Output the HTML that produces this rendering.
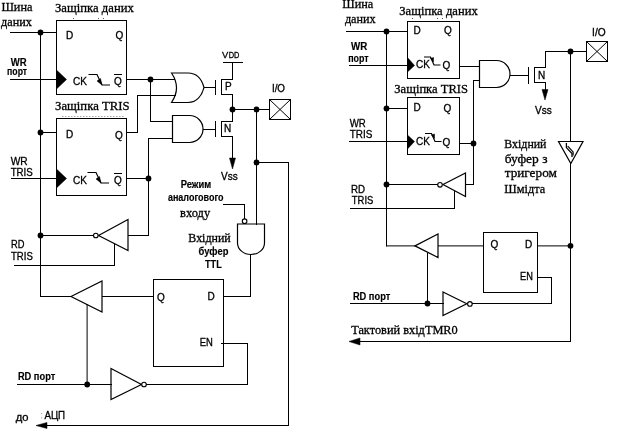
<!DOCTYPE html>
<html><head><meta charset="utf-8"><style>
html,body{margin:0;padding:0;background:#fff;}
svg{display:block;will-change:transform;}
.sr{font-family:"Liberation Serif",serif;font-size:13px;}
.sn{font-family:"Liberation Sans",sans-serif;font-size:10px;}
.sb{font-family:"Liberation Sans",sans-serif;font-size:10px;font-weight:bold;}
.sr2{font-family:"Liberation Sans",sans-serif;font-size:10px;}
.ss{font-family:"Liberation Sans",sans-serif;font-size:8.6px;}
.sv{font-family:"Liberation Sans",sans-serif;font-size:9.4px;}
.f{fill:#000;stroke:none;}
text{fill:#000;stroke:#000;stroke-width:0.3px;}
.sb{stroke-width:0.15px;}
</style></head><body>
<svg width="626" height="434" viewBox="0 0 626 434">
<rect width="626" height="434" fill="#fff"/>
<g stroke="#000" fill="none">
<path d="M10 32.5H57" stroke-width="1"/>
<circle cx="40.5" cy="32.5" r="2.9" class="f"/>
<path d="M40.5 32V297" stroke-width="1"/>
<rect x="56.5" y="20.5" width="70" height="74" fill="none"/>
<path d="M10 79.5H57" stroke-width="1"/>
<polygon points="56.5,70 66.5,79.5 56.5,89" fill="#000" stroke-width="0.5"/>
<rect x="56.5" y="118.5" width="70" height="77" fill="none"/>
<path d="M40 132.5H57" stroke-width="1"/>
<circle cx="40.5" cy="132.5" r="2.9" class="f"/>
<path d="M11 178.5H57" stroke-width="1"/>
<polygon points="56.5,169 66.5,178.5 56.5,188" fill="#000" stroke-width="0.5"/>
<path d="M126 79.5H175" stroke-width="1"/>
<circle cx="150.5" cy="79.5" r="2.9" class="f"/>
<path d="M150.5 79V122" stroke-width="1"/>
<path d="M150 121.5H173" stroke-width="1"/>
<path d="M126 132.5H138" stroke-width="1"/>
<path d="M137.5 95V133" stroke-width="1"/>
<path d="M137 95.5H176" stroke-width="1"/>
<path d="M126 178.5H149" stroke-width="1"/>
<circle cx="148.5" cy="178.5" r="2.9" class="f"/>
<path d="M148.5 138V236" stroke-width="1"/>
<path d="M148 138.5H173" stroke-width="1"/>
<path d="M171.5 73H188C197 73 202 80 204 87.5C202 95 197 102.5 188 102.5H171.5Q181.5 87.75 171.5 73Z" fill="none" stroke-width="1.2"/>
<path d="M172.5 115.5H189.5A13.5 13.5 0 0 1 189.5 142.5H172.5Z" fill="none" stroke-width="1.2"/>
<path d="M204 87.5H216" stroke-width="1"/>
<path d="M215.5 80V95" stroke-width="1"/>
<path d="M203 129.5H216" stroke-width="1"/>
<path d="M215.5 121V137" stroke-width="1"/>
<path d="M221.5 79V95" stroke-width="1"/>
<path d="M221 79.5H233" stroke-width="1"/>
<path d="M221 94.5H233" stroke-width="1"/>
<path d="M232.5 62V80" stroke-width="1"/>
<path d="M223 62.5H243" stroke-width="1"/>
<path d="M232.5 94V122" stroke-width="1"/>
<circle cx="232.5" cy="109.5" r="2.9" class="f"/>
<path d="M221.5 121V137" stroke-width="1"/>
<path d="M221 121.5H233" stroke-width="1"/>
<path d="M221 136.5H233" stroke-width="1"/>
<path d="M232.5 136V161" stroke-width="1"/>
<polygon points="229.5,158 235.5,158 232.5,169" fill="#000" stroke-width="0.5"/>
<path d="M232 109.5H270" stroke-width="1"/>
<circle cx="256.5" cy="109.5" r="2.9" class="f"/>
<rect x="269.5" y="99.5" width="21" height="20" fill="none"/>
<path d="M269.5 99.5L290.5 119.5M290.5 99.5L269.5 119.5" fill="none" stroke-width="1"/>
<path d="M256.5 109V225" stroke-width="1"/>
<circle cx="256.5" cy="162.5" r="2.9" class="f"/>
<path d="M256 162.5H289" stroke-width="1"/>
<path d="M288.5 162V426" stroke-width="1"/>
<path d="M45 425.5H289" stroke-width="1"/>
<polygon points="36,425.5 47,422.5 47,428.5" fill="#000" stroke-width="0.5"/>
<path d="M223 204.5H245" stroke-width="1"/>
<path d="M244.5 204V219" stroke-width="1"/>
<circle cx="244.6" cy="221.2" r="2.3" fill="#fff" stroke-width="1.1"/>
<path d="M237.5 224H264.5V243A13.5 11.5 0 0 1 237.5 243Z" fill="none" stroke-width="1.2"/>
<path d="M250.5 254V297" stroke-width="1"/>
<path d="M223 296.5H251" stroke-width="1"/>
<path d="M40 235.5H94" stroke-width="1"/>
<circle cx="40.5" cy="235.5" r="2.9" class="f"/>
<polygon points="98.5,235.5 128,219.5 128,250.5" fill="none" stroke-width="1.2"/>
<circle cx="95.8" cy="235.5" r="2.3" fill="#fff" stroke-width="1.1"/>
<path d="M128 235.5H149" stroke-width="1"/>
<path d="M114.5 243V266" stroke-width="1"/>
<path d="M14 265.5H115" stroke-width="1"/>
<path d="M40 296.5H72" stroke-width="1"/>
<polygon points="71,296.5 102,281 102,312" fill="none" stroke-width="1.2"/>
<path d="M102 296.5H154" stroke-width="1"/>
<path d="M87.1 304V385" stroke-width="1"/>
<circle cx="87.2" cy="384.5" r="2.9" class="f"/>
<rect x="153.5" y="279.5" width="70" height="87" fill="none"/>
<path d="M221 343.5H248" stroke-width="1"/>
<path d="M247.5 343V385" stroke-width="1"/>
<path d="M17 384.5H112" stroke-width="1"/>
<polygon points="111,368.5 141.5,384.5 111,399.5" fill="none" stroke-width="1.2"/>
<circle cx="144" cy="384.5" r="2.3" fill="#fff" stroke-width="1.1"/>
<path d="M146 384.5H248" stroke-width="1"/>
<path d="M346 31.5H408" stroke-width="1"/>
<circle cx="386.5" cy="31.5" r="2.9" class="f"/>
<path d="M386.5 31V246.4" stroke-width="1"/>
<rect x="407.5" y="21.5" width="52" height="57" fill="none"/>
<path d="M349 65.5H408" stroke-width="1"/>
<polygon points="407.5,57.5 414.5,65.5 407.5,72" fill="#000" stroke-width="0.5"/>
<path d="M459 66.5H480" stroke-width="1"/>
<path d="M479.5 60.5H496.5A13.5 13.5 0 0 1 496.5 87.5H479.5Z" fill="none" stroke-width="1.2"/>
<path d="M510 75.5H529" stroke-width="1"/>
<path d="M528.5 67V84" stroke-width="1"/>
<path d="M534.5 67V83" stroke-width="1"/>
<path d="M534 67.5H546" stroke-width="1"/>
<path d="M545.5 51V68" stroke-width="1"/>
<path d="M545 51.5H587" stroke-width="1"/>
<circle cx="570.5" cy="51.5" r="2.9" class="f"/>
<rect x="586.5" y="41.5" width="21" height="20" fill="none"/>
<path d="M586.5 41.5L607.5 61.5M607.5 41.5L586.5 61.5" fill="none" stroke-width="1"/>
<path d="M534 82.5H546" stroke-width="1"/>
<path d="M545.5 82V91" stroke-width="1"/>
<polygon points="542,89.5 548,89.5 545,100" fill="#000" stroke-width="0.5"/>
<path d="M570.5 51V142" stroke-width="1"/>
<path d="M570.5 163V342" stroke-width="1"/>
<polygon points="558.5,141.5 583,141.5 570.8,163.5" fill="none" stroke-width="1.2"/>
<path d="M566.4 143V147.6L572 153.6V157" fill="none" stroke-width="1.3"/>
<path d="M567.7 146.1L573.1 151.9V155.5" fill="none" stroke-width="1.2"/>
<circle cx="570.5" cy="245.8" r="2.9" class="f"/>
<path d="M537 245.9H571" stroke-width="1"/>
<path d="M473 80.5H480" stroke-width="1"/>
<path d="M473.5 80V185" stroke-width="1"/>
<circle cx="473.5" cy="143.5" r="2.9" class="f"/>
<path d="M459 143.5H474" stroke-width="1"/>
<rect x="407.5" y="97.5" width="52" height="57" fill="none"/>
<path d="M386 108.5H408" stroke-width="1"/>
<circle cx="386.5" cy="108.5" r="2.9" class="f"/>
<path d="M349 141.5H408" stroke-width="1"/>
<polygon points="407.5,135 414.5,141.5 407.5,149" fill="#000" stroke-width="0.5"/>
<path d="M465 184.5H474" stroke-width="1"/>
<polygon points="443,184.5 465.5,173 465.5,196.5" fill="none" stroke-width="1.2"/>
<circle cx="440" cy="184.8" r="2.3" fill="#fff" stroke-width="1.1"/>
<path d="M386 184.5H438" stroke-width="1"/>
<circle cx="386.5" cy="184.5" r="2.9" class="f"/>
<path d="M454.5 191V209" stroke-width="1"/>
<path d="M350 208.5H455" stroke-width="1"/>
<path d="M386 245.9H416" stroke-width="1"/>
<polygon points="415,245.9 438,234 438,257.5" fill="none" stroke-width="1.2"/>
<path d="M438 245.9H484" stroke-width="1"/>
<path d="M427.5 253V304" stroke-width="1"/>
<circle cx="427.5" cy="303.5" r="2.9" class="f"/>
<rect x="483.5" y="232.5" width="54" height="60" fill="none"/>
<path d="M537 277.5H552" stroke-width="1"/>
<path d="M551.5 277V304" stroke-width="1"/>
<path d="M350 303.5H444" stroke-width="1"/>
<polygon points="443,292 466.8,303.8 443,315.5" fill="none" stroke-width="1.2"/>
<circle cx="469.9" cy="303.9" r="2.3" fill="#fff" stroke-width="1.1"/>
<path d="M472 303.5H552" stroke-width="1"/>
<path d="M358 341.5H571" stroke-width="1"/>
<polygon points="349,341.5 360,338 360,345" fill="#000" stroke-width="0.5"/>
<rect x="73" y="18" width="1" height="1" fill="#555" stroke="none"/>
<rect x="98" y="18" width="1" height="1" fill="#555" stroke="none"/>
<rect x="103" y="18" width="1" height="1" fill="#555" stroke="none"/>
<rect x="412" y="18" width="1" height="1" fill="#555" stroke="none"/>
<rect x="437" y="18" width="1" height="1" fill="#555" stroke="none"/>
<rect x="442" y="18" width="1" height="1" fill="#555" stroke="none"/>
<path d="M62 116.5H125" stroke="#aaa" stroke-dasharray="1.5 1.5"/>
<path d="M88.5 74.5H97.0L102.0 85H110.0" fill="none" stroke-width="1.2"/>
<polygon points="97.0,81 100.5,78.5 102.0,85" fill="#000" stroke-width="0.5"/>
<path d="M87.5 172.5H96.0L101.0 183H109.0" fill="none" stroke-width="1.2"/>
<polygon points="96.0,179 99.5,176.5 101.0,183" fill="#000" stroke-width="0.5"/>
<path d="M424 57.0H430.5L434 65.0H440.5" fill="none" stroke-width="1.2"/>
<polygon points="430.5,58.5 433.5,57.5 433.5,62.0" fill="#000" stroke-width="0.5"/>
<path d="M425 133.5H431.5L435 141.5H441.5" fill="none" stroke-width="1.2"/>
<polygon points="431.5,135 434.5,134 434.5,138.5" fill="#000" stroke-width="0.5"/>
<text id="t0" x="1.4" y="11" class="sr" textLength="31.12" lengthAdjust="spacingAndGlyphs">Шина</text>
<text id="t1" x="1.0" y="26" class="sr" textLength="30.82" lengthAdjust="spacingAndGlyphs">даних</text>
<text id="t2" x="55.0" y="12" class="sr" textLength="78.82" lengthAdjust="spacingAndGlyphs">Защіпка даних</text>
<text id="t3" x="55.0" y="110" class="sr" textLength="74.57" lengthAdjust="spacingAndGlyphs">Защіпка TRIS</text>
<text id="t4" x="342.2" y="8" class="sr" textLength="31.12" lengthAdjust="spacingAndGlyphs">Шина</text>
<text id="t5" x="344.9" y="23" class="sr" textLength="30.82" lengthAdjust="spacingAndGlyphs">даних</text>
<text id="t6" x="399.3" y="15" class="sr" textLength="78.42" lengthAdjust="spacingAndGlyphs">Защіпка даних</text>
<text id="t7" x="394.3" y="93" class="sr" textLength="73.77" lengthAdjust="spacingAndGlyphs">Защіпка TRIS</text>
<text id="t8" x="180.0" y="216.5" class="sr" textLength="30.12" lengthAdjust="spacingAndGlyphs">входу</text>
<text id="t9" x="188.3" y="242" class="sr" textLength="42.50" lengthAdjust="spacingAndGlyphs">Вхідний</text>
<text id="t10" x="504.3" y="148" class="sr" textLength="42.20" lengthAdjust="spacingAndGlyphs">Вхідний</text>
<text id="t11" x="504.7" y="162.5" class="sr" textLength="42.79" lengthAdjust="spacingAndGlyphs">буфер з</text>
<text id="t12" x="504.7" y="177" class="sr" textLength="52.22" lengthAdjust="spacingAndGlyphs">тригером</text>
<text id="t13" x="504.3" y="193" class="sr" textLength="40.88" lengthAdjust="spacingAndGlyphs">Шмідта</text>
<text id="t14" x="351.17" y="334" class="sr" textLength="106.62" lengthAdjust="spacingAndGlyphs">Тактовий вхідTMR0</text>
<text id="t15" x="10.7" y="65.5" class="sb" textLength="15.89" lengthAdjust="spacingAndGlyphs">WR</text>
<text id="t16" x="7.1" y="75" class="sb" textLength="20.03" lengthAdjust="spacingAndGlyphs">порт</text>
<text id="t17" x="10.7" y="164.5" class="sn" textLength="16.98" lengthAdjust="spacingAndGlyphs">WR</text>
<text id="t18" x="10.7" y="175.5" class="sn" textLength="22.09" lengthAdjust="spacingAndGlyphs">TRIS</text>
<text id="t19" x="11.0" y="248" class="sn" textLength="13.42" lengthAdjust="spacingAndGlyphs">RD</text>
<text id="t20" x="11.0" y="260" class="sn" textLength="21.79" lengthAdjust="spacingAndGlyphs">TRIS</text>
<text id="t21" x="17.9" y="379.5" class="sb" textLength="37.33" lengthAdjust="spacingAndGlyphs">RD порт</text>
<text id="t22" x="15.8" y="421" class="sn" textLength="12.75" lengthAdjust="spacingAndGlyphs">до</text>
<text id="t23" x="44.4" y="419" class="sn" textLength="20.76" lengthAdjust="spacingAndGlyphs">АЦП</text>
<circle cx="41.6" cy="413.6" r="0.6" fill="#999" stroke="none"/><circle cx="41.6" cy="417.8" r="0.6" fill="#999" stroke="none"/>
<text id="t24" x="180.7" y="188" class="sb" textLength="30.47" lengthAdjust="spacingAndGlyphs">Режим</text>
<text id="t25" x="167.9" y="200.5" class="sb" textLength="55.62" lengthAdjust="spacingAndGlyphs">аналогового</text>
<text id="t26" x="198.6" y="254.5" class="sb" textLength="29.78" lengthAdjust="spacingAndGlyphs">буфер</text>
<text id="t27" x="205.0" y="267.5" class="sb" textLength="16.70" lengthAdjust="spacingAndGlyphs">TTL</text>
<text id="t28" x="66" y="39" class="sn">D</text>
<text id="t29" x="115.5" y="39" class="sn">Q</text>
<text id="t30" x="73" y="85" class="sn">CK</text>
<text id="t31" x="114" y="85" class="sn">Q</text>
<path d="M114 74.5H122" stroke-width="1"/>
<text id="t32" x="66" y="138" class="sn">D</text>
<text id="t33" x="115" y="138.5" class="sn">Q</text>
<text id="t34" x="73" y="184" class="sn">CK</text>
<text id="t35" x="114" y="184" class="sn">Q</text>
<path d="M114 173.5H122" stroke-width="1"/>
<text id="t36" x="157" y="300.5" class="sn">Q</text>
<text id="t37" x="207.5" y="300" class="sn">D</text>
<text id="t38" x="199.7" y="346" class="sn" textLength="13.11" lengthAdjust="spacingAndGlyphs">EN</text>
<text id="t39" x="222" y="58" class="sv">V</text>
<text id="t40" x="228.71" y="58" class="ss" textLength="10.66" lengthAdjust="spacingAndGlyphs">DD</text>
<text id="t41" x="225" y="89.5" class="sn">P</text>
<text id="t42" x="224" y="132" class="sn">N</text>
<text id="t43" x="271.92" y="92" class="sn" textLength="13.12" lengthAdjust="spacingAndGlyphs">I/O</text>
<text id="t44" x="221.0" y="180" class="sn" textLength="16.67" lengthAdjust="spacingAndGlyphs">Vss</text>
<text id="t45" x="350.99" y="50" class="sb" textLength="16.28" lengthAdjust="spacingAndGlyphs">WR</text>
<text id="t46" x="348.16" y="61.5" class="sb" textLength="20.43" lengthAdjust="spacingAndGlyphs">порт</text>
<text id="t47" x="349.78" y="127" class="sn" textLength="16.08" lengthAdjust="spacingAndGlyphs">WR</text>
<text id="t48" x="349.8" y="138" class="sn" textLength="22.58" lengthAdjust="spacingAndGlyphs">TRIS</text>
<text id="t49" x="350.91" y="193" class="sn" textLength="14.04" lengthAdjust="spacingAndGlyphs">RD</text>
<text id="t50" x="351.87" y="204" class="sn" textLength="21.49" lengthAdjust="spacingAndGlyphs">TRIS</text>
<text id="t51" x="352.9" y="300" class="sb" textLength="37.33" lengthAdjust="spacingAndGlyphs">RD порт</text>
<text id="t52" x="413.5" y="34" class="sn">D</text>
<text id="t53" x="444" y="34" class="sn">Q</text>
<text id="t54" x="416" y="68" class="sn">CK</text>
<text id="t55" x="442.5" y="68.5" class="sn">Q</text>
<text id="t56" x="413.5" y="111" class="sn">D</text>
<text id="t57" x="443.5" y="111.5" class="sn">Q</text>
<text id="t58" x="416" y="145" class="sn">CK</text>
<text id="t59" x="442.5" y="145.5" class="sn">Q</text>
<text id="t60" x="592.08" y="35.5" class="sn" textLength="13.57" lengthAdjust="spacingAndGlyphs">I/O</text>
<text id="t61" x="538" y="79" class="sn">N</text>
<text id="t62" x="535.0" y="114" class="sn" textLength="16.77" lengthAdjust="spacingAndGlyphs">Vss</text>
<text id="t63" x="490.5" y="248" class="sn">Q</text>
<text id="t64" x="525" y="247.5" class="sn">D</text>
<text id="t65" x="520.0" y="280" class="sn" textLength="12.81" lengthAdjust="spacingAndGlyphs">EN</text>
</g>
</svg>
</body></html>
